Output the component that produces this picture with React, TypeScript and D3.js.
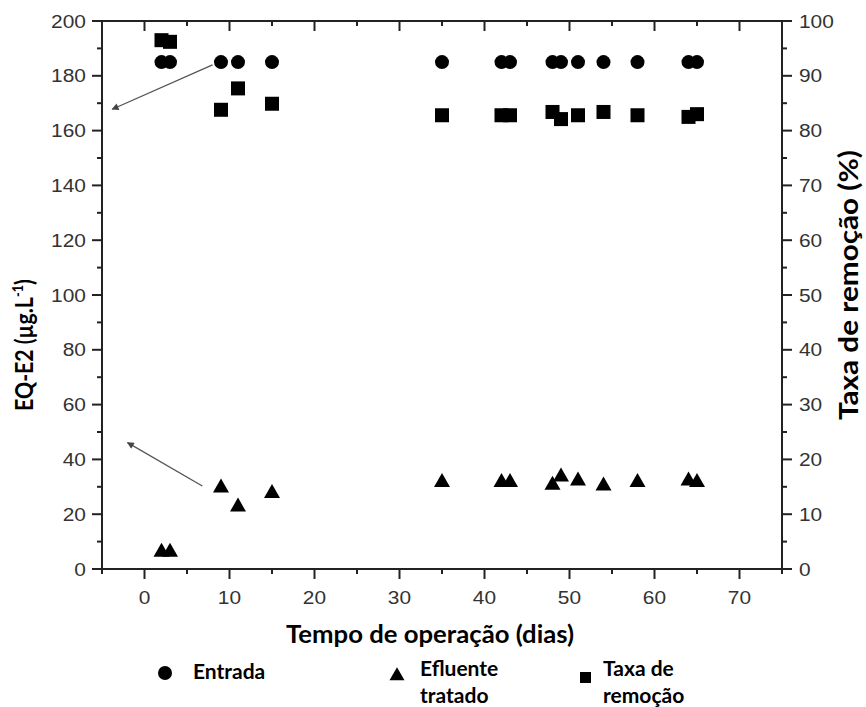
import React from "react";
import * as d3 from "d3";

// Operation days at which samples were taken
const days = [2, 3, 9, 11, 15, 35, 42, 43, 48, 49, 51, 54, 58, 64, 65];
// EQ-E2 in the influent (µg/L)
const entrada = [185, 185, 185, 185, 185, 185, 185, 185, 185, 185, 185, 185, 185, 185, 185];
// EQ-E2 in the treated effluent (µg/L)
const efluente = [6.5, 6.5, 30, 23, 28, 32, 32, 32, 31, 34, 32.5, 30.7, 32, 32.5, 32];
// Removal rate (%)
const taxa = [96.5, 96.2, 83.8, 87.7, 84.9, 82.8, 82.8, 82.8, 83.4, 82.1, 82.8, 83.4, 82.8, 82.5, 83.0];

const xTicks = [0, 10, 20, 30, 40, 50, 60, 70];
const yLeftTicks = [0, 20, 40, 60, 80, 100, 120, 140, 160, 180, 200];
const yRightTicks = [0, 10, 20, 30, 40, 50, 60, 70, 80, 90, 100];

// Annotation arrows pointing each series to its axis: [fromDay, fromValue, toDay, toValue]
const arrowsLeft = [
  [8, 184, -3.8, 167.8],
  [6.8, 30.3, -2, 46.1],
];

const W = 866;
const H = 707;
const M = { left: 102, right: 782, top: 21, bottom: 569 };

const AXIS = "#222";
const TICK_FONT = "'Liberation Sans', Arial, sans-serif";
const TITLE_FONT = "Lato, 'Open Sans', sans-serif";

export default function App() {
  const x = d3.scaleLinear().domain([-5, 75]).range([M.left, M.right]);
  const yL = d3.scaleLinear().domain([0, 200]).range([M.bottom, M.top]);
  const yR = d3.scaleLinear().domain([0, 100]).range([M.bottom, M.top]);

  const xMinor = d3.range(-5, 76, 10);
  const yLMinor = d3.range(10, 200, 20);
  const yRMinor = d3.range(5, 100, 10);

  const triPath = (cx: number, cy: number, w = 16, h = 14) =>
    `M${cx},${cy - h * 0.6}L${cx + w / 2},${cy + h * 0.4}L${cx - w / 2},${cy + h * 0.4}Z`;

  const tickLabel = (key: string, tx: number, ty: number, text: string, anchor: string) => (
    <g key={key} transform={`translate(${tx},${ty}) scale(1.1,1)`}>
      <text
        textAnchor={anchor}
        dominantBaseline="central"
        fontFamily={TICK_FONT}
        fontSize={19}
        fill="#333"
      >
        {text}
      </text>
    </g>
  );

  const legendText = (tx: number, ty: number, label: string) => (
    <text
      x={tx}
      y={ty}
      dominantBaseline="central"
      fontFamily={TITLE_FONT}
      fontWeight={700}
      fontSize={21}
      fill="#000"
    >
      {label}
    </text>
  );

  return (
    <svg
      width={W}
      height={H}
      style={{ position: "absolute", left: 0, top: 0, background: "#fff" }}
    >
      <defs>
        <marker
          id="arrowHead"
          viewBox="0 0 10 10"
          refX="9"
          refY="5"
          markerWidth="9"
          markerHeight="7"
          markerUnits="userSpaceOnUse"
          orient="auto"
        >
          <path d="M0,0L10,5L0,10Z" fill="#444" />
        </marker>
      </defs>

      {/* frame */}
      <rect
        x={M.left}
        y={M.top}
        width={M.right - M.left}
        height={M.bottom - M.top}
        fill="none"
        stroke={AXIS}
        strokeWidth={2}
      />

      {/* bottom axis ticks (outward) and top ticks (inward) */}
      {xTicks.map((t) => (
        <g key={"xt" + t}>
          <line x1={x(t)} x2={x(t)} y1={M.bottom} y2={M.bottom + 10} stroke={AXIS} strokeWidth={2} />
          <line x1={x(t)} x2={x(t)} y1={M.top} y2={M.top + 10} stroke={AXIS} strokeWidth={2} />
          {tickLabel("xl" + t, x(t), 597, String(t), "middle")}
        </g>
      ))}
      {xMinor.map((t) => (
        <g key={"xm" + t}>
          <line x1={x(t)} x2={x(t)} y1={M.bottom} y2={M.bottom + 5} stroke={AXIS} strokeWidth={2} />
          <line x1={x(t)} x2={x(t)} y1={M.top} y2={M.top + 5} stroke={AXIS} strokeWidth={2} />
        </g>
      ))}

      {/* left axis */}
      {yLeftTicks.map((t) => (
        <g key={"yl" + t}>
          <line x1={M.left - 10} x2={M.left} y1={yL(t)} y2={yL(t)} stroke={AXIS} strokeWidth={2} />
          {tickLabel("yll" + t, 86, yL(t), String(t), "end")}
        </g>
      ))}
      {yLMinor.map((t) => (
        <line key={"ylm" + t} x1={M.left - 5} x2={M.left} y1={yL(t)} y2={yL(t)} stroke={AXIS} strokeWidth={2} />
      ))}

      {/* right axis */}
      {yRightTicks.map((t) => (
        <g key={"yr" + t}>
          <line x1={M.right} x2={M.right + 10} y1={yR(t)} y2={yR(t)} stroke={AXIS} strokeWidth={2} />
          {tickLabel("yrl" + t, 799, yR(t), String(t), "start")}
        </g>
      ))}
      {yRMinor.map((t) => (
        <line key={"yrm" + t} x1={M.right} x2={M.right + 5} y1={yR(t)} y2={yR(t)} stroke={AXIS} strokeWidth={2} />
      ))}

      {/* annotation arrows */}
      {arrowsLeft.map(([x0, y0, x1, y1], i) => (
        <line
          key={"ar" + i}
          x1={x(x0)}
          y1={yL(y0)}
          x2={x(x1)}
          y2={yL(y1)}
          stroke="#555"
          strokeWidth={1.3}
          markerEnd="url(#arrowHead)"
        />
      ))}

      {/* Entrada */}
      {days.map((d, i) => (
        <circle key={"c" + i} cx={x(d)} cy={yL(entrada[i])} r={7} fill="#000" />
      ))}
      {/* Efluente tratado */}
      {days.map((d, i) => (
        <path key={"t" + i} d={triPath(x(d), yL(efluente[i]))} fill="#000" />
      ))}
      {/* Taxa de remoção */}
      {days.map((d, i) => (
        <rect key={"s" + i} x={x(d) - 7} y={yR(taxa[i]) - 7} width={14} height={14} fill="#000" />
      ))}

      {/* axis titles */}
      <text
        x={430}
        y={643}
        textAnchor="middle"
        fontFamily={TITLE_FONT}
        fontWeight={700}
        fontSize={25}
        textLength={288}
        lengthAdjust="spacingAndGlyphs"
        fill="#000"
      >
        Tempo de operação (dias)
      </text>
      <g transform="translate(33,345) rotate(-90) scale(0.85,1)">
        <text
          textAnchor="middle"
          fontFamily={TITLE_FONT}
          fontWeight={700}
          fontSize={25}
          fill="#000"
        >
          EQ-E2 (µg.L<tspan dy={-10} fontSize={15}>-1</tspan>
          <tspan dy={10}>)</tspan>
        </text>
      </g>
      <text
        transform="translate(858,285) rotate(-90)"
        textAnchor="middle"
        fontFamily={TITLE_FONT}
        fontWeight={700}
        fontSize={27}
        textLength={270}
        lengthAdjust="spacingAndGlyphs"
        fill="#000"
      >
        Taxa de remoção (%)
      </text>

      {/* legend */}
      <circle cx={165} cy={673} r={7} fill="#000" />
      {legendText(193, 670, "Entrada")}
      <path d={triPath(397, 675, 15, 13)} fill="#000" />
      {legendText(420, 667, "Efluente")}
      {legendText(420, 694, "tratado")}
      <rect x={580} y={672} width={11} height={11} fill="#000" />
      {legendText(603, 667, "Taxa de")}
      {legendText(603, 694, "remoção")}
    </svg>
  );
}
